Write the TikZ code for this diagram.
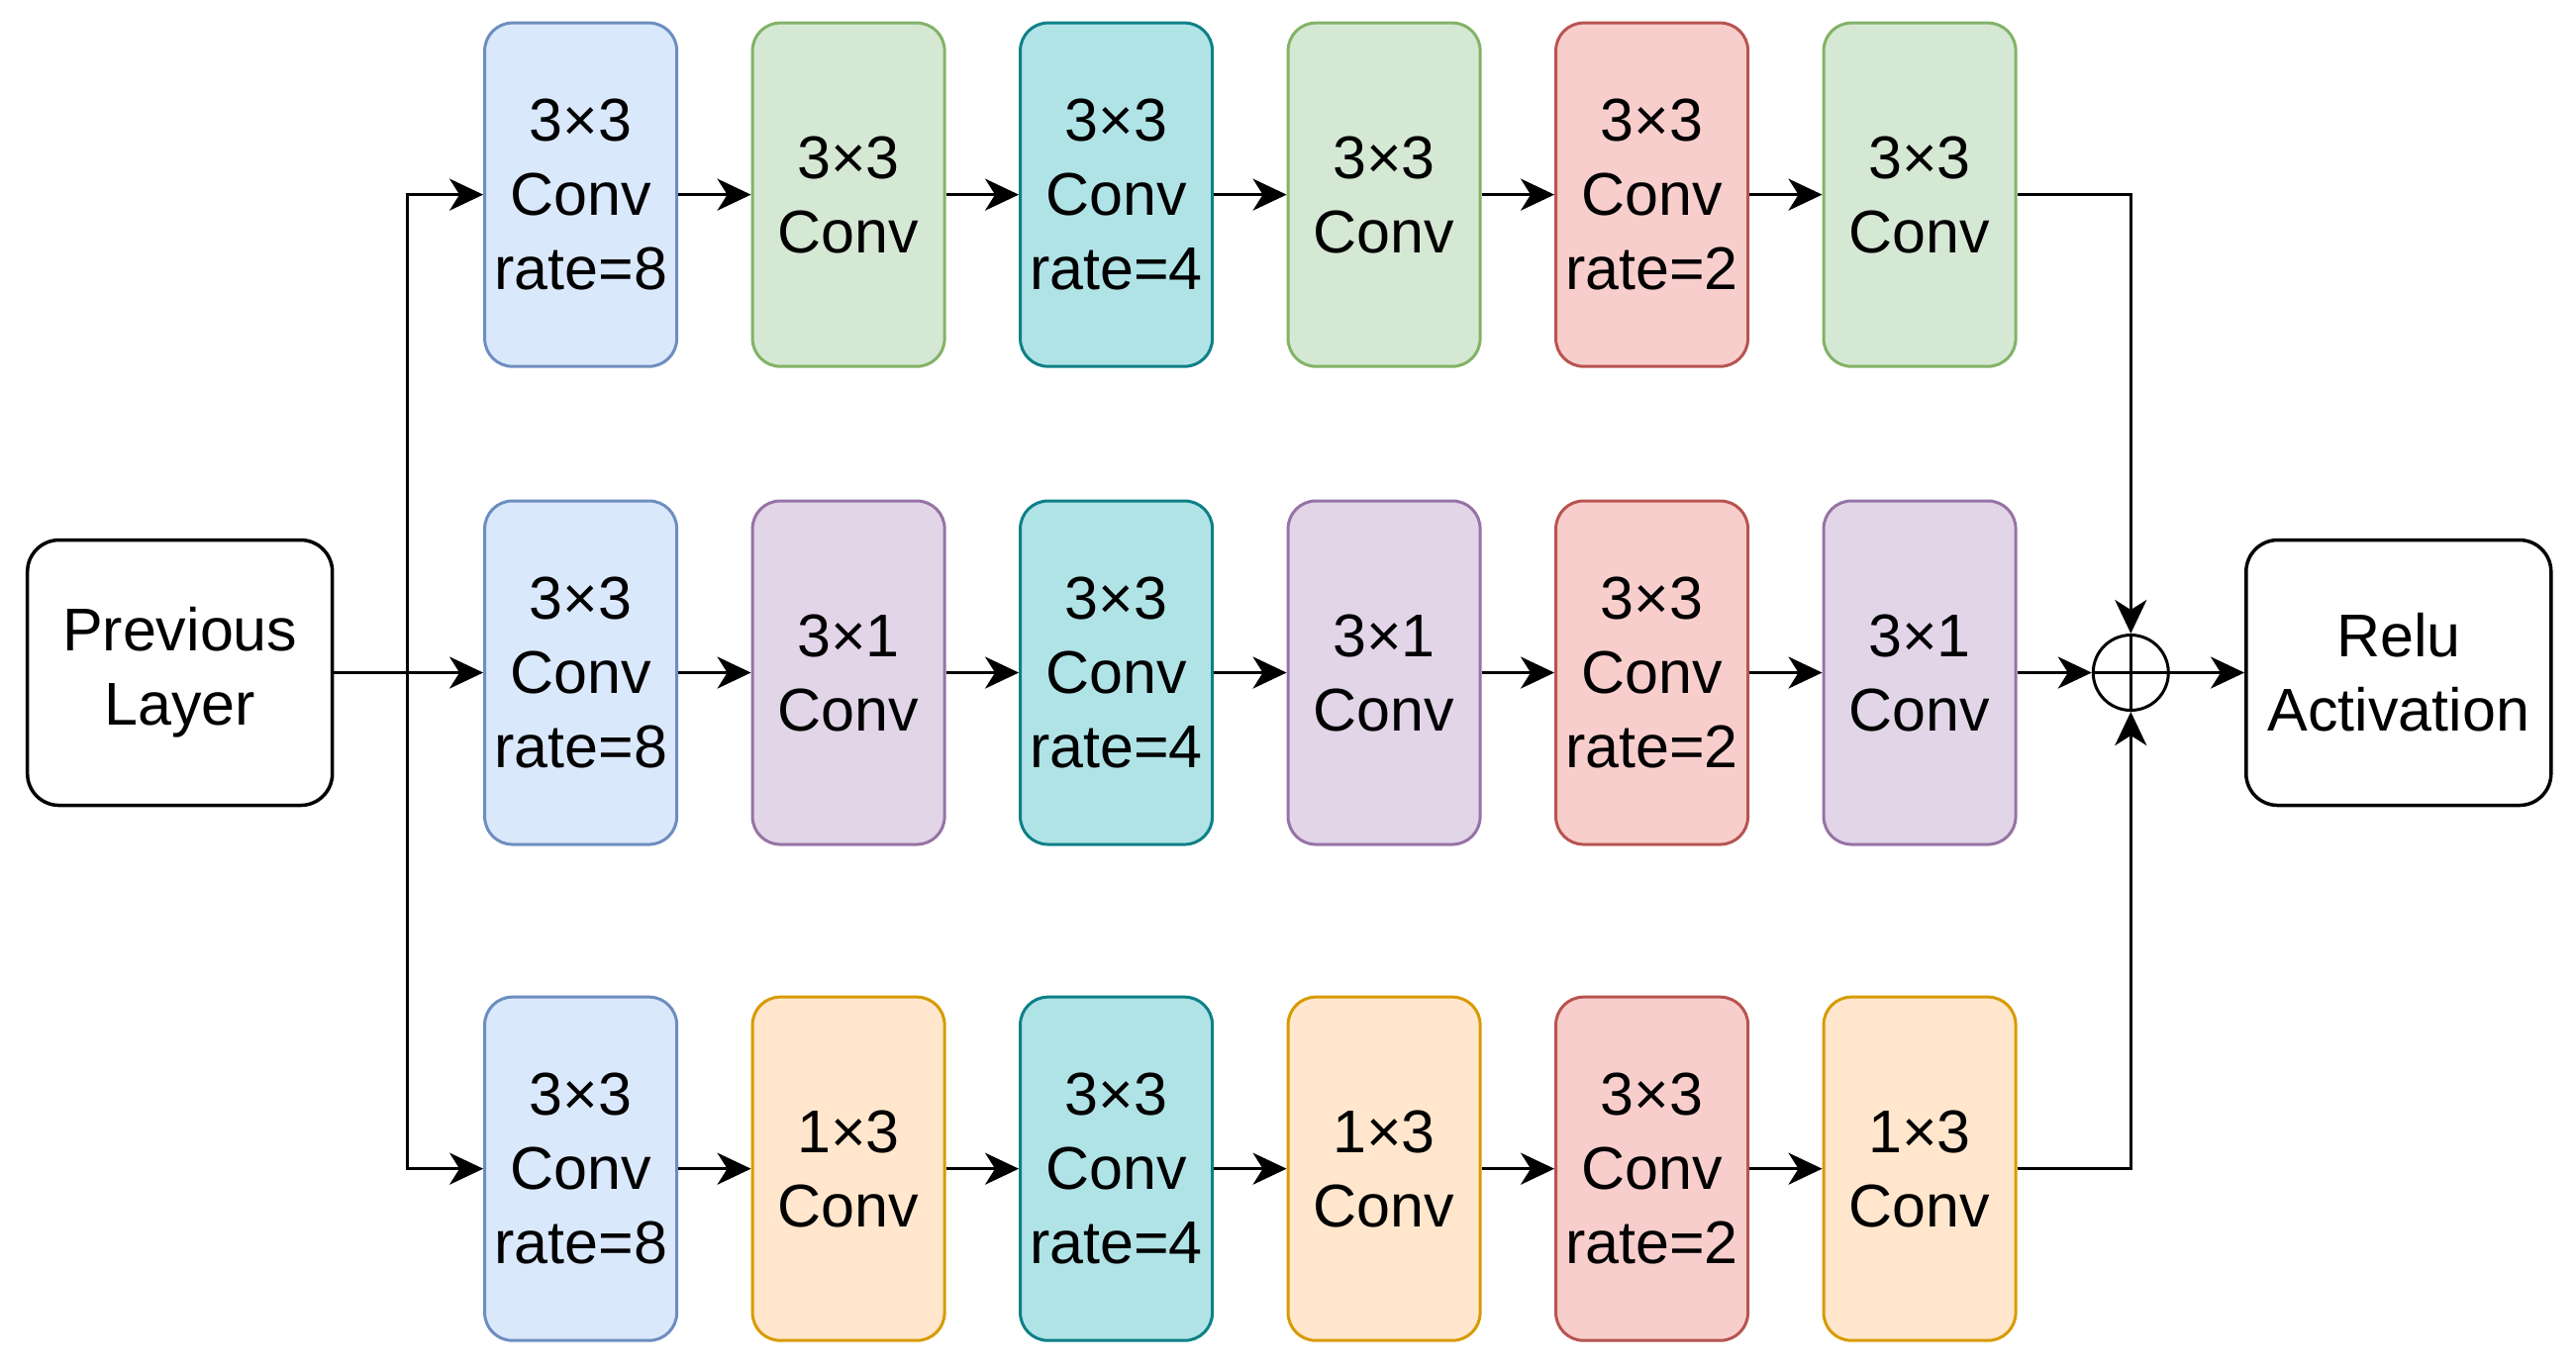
\documentclass[tikz,border=0pt]{standalone}
\usepackage{fontspec}
\setmainfont{Liberation Sans}
\usetikzlibrary{arrows.meta}
\definecolor{bluef}{HTML}{DAE8FC}\definecolor{blued}{HTML}{6C8EBF}
\definecolor{greenf}{HTML}{D5E8D4}\definecolor{greend}{HTML}{82B366}
\definecolor{tealf}{HTML}{B0E3E6}\definecolor{teald}{HTML}{0E8088}
\definecolor{redf}{HTML}{F8CECC}\definecolor{redd}{HTML}{B85450}
\definecolor{purpf}{HTML}{E1D5E7}\definecolor{purpd}{HTML}{9673A6}
\definecolor{orf}{HTML}{FFE6CC}\definecolor{ord}{HTML}{D79B00}
\tikzset{
  conv/.style={rectangle, rounded corners=28pt, line width=3pt, minimum width=194pt, minimum height=347pt, inner sep=0pt, align=center, font=\fontsize{61}{75}\selectfont},
  cblue/.style={conv, fill=bluef, draw=blued},
  cgreen/.style={conv, fill=greenf, draw=greend},
  cteal/.style={conv, fill=tealf, draw=teald},
  cred/.style={conv, fill=redf, draw=redd},
  cpurp/.style={conv, fill=purpf, draw=purpd},
  corange/.style={conv, fill=orf, draw=ord},
  endbox/.style={rectangle, rounded corners=32pt, line width=3.5pt, draw=black, fill=white, minimum width=308pt, minimum height=268pt, inner sep=0pt, align=center, font=\fontsize{61}{75}\selectfont},
  arr/.style={line width=3.5pt, -{Stealth[length=34pt, width=32pt, inset=10pt]}},
  ln/.style={line width=3.5pt},
}
\begin{document}
\begin{tikzpicture}[x=1.6594pt, y=-1.6594pt]
\useasboundingbox (0,0) rectangle (1568,834);
% end boxes
\node[endbox] (prev) at (109.5,409.5) {Previous\\Layer};
\node[endbox] (relu) at (1460,409.5) {Relu\\Activation};
% row 1
\node[cblue]  (a1) at (353.5,118.5) {3×3\\Conv\\rate=8};
\node[cgreen] (a2) at (516.5,118.5) {3×3\\Conv};
\node[cteal]  (a3) at (679.5,118.5) {3×3\\Conv\\rate=4};
\node[cgreen] (a4) at (842.5,118.5) {3×3\\Conv};
\node[cred]   (a5) at (1005.5,118.5) {3×3\\Conv\\rate=2};
\node[cgreen] (a6) at (1168.5,118.5) {3×3\\Conv};
% row 2
\node[cblue]  (b1) at (353.5,409.5) {3×3\\Conv\\rate=8};
\node[cpurp]  (b2) at (516.5,409.5) {3×1\\Conv};
\node[cteal]  (b3) at (679.5,409.5) {3×3\\Conv\\rate=4};
\node[cpurp]  (b4) at (842.5,409.5) {3×1\\Conv};
\node[cred]   (b5) at (1005.5,409.5) {3×3\\Conv\\rate=2};
\node[cpurp]  (b6) at (1168.5,409.5) {3×1\\Conv};
% row 3
\node[cblue]   (c1) at (353.5,711.5) {3×3\\Conv\\rate=8};
\node[corange] (c2) at (516.5,711.5) {1×3\\Conv};
\node[cteal]   (c3) at (679.5,711.5) {3×3\\Conv\\rate=4};
\node[corange] (c4) at (842.5,711.5) {1×3\\Conv};
\node[cred]    (c5) at (1005.5,711.5) {3×3\\Conv\\rate=2};
\node[corange] (c6) at (1168.5,711.5) {1×3\\Conv};
% sum node
\node[circle, draw=black, line width=3pt, minimum size=76pt, inner sep=0pt, fill=white] (plus) at (1297,409.5) {};
\draw[line width=3pt] (plus.north) -- (plus.south);
\draw[line width=3pt] (plus.west) -- (plus.east);
% split
\coordinate (split) at (248,409.5);
\draw[arr] (prev.east) -- (b1.west);
\draw[arr] (split) |- (a1.west);
\draw[arr] (split) |- (c1.west);
% chains
\foreach \r in {a,b,c}{
  \draw[arr] (\r1.east) -- (\r2.west);
  \draw[arr] (\r2.east) -- (\r3.west);
  \draw[arr] (\r3.east) -- (\r4.west);
  \draw[arr] (\r4.east) -- (\r5.west);
  \draw[arr] (\r5.east) -- (\r6.west);
}
% merge
\draw[arr] (a6.east) -| (plus.north);
\draw[arr] (c6.east) -| (plus.south);
\draw[arr] (b6.east) -- (plus.west);
\draw[arr] (plus.east) -- (relu.west);
\end{tikzpicture}
\end{document}
